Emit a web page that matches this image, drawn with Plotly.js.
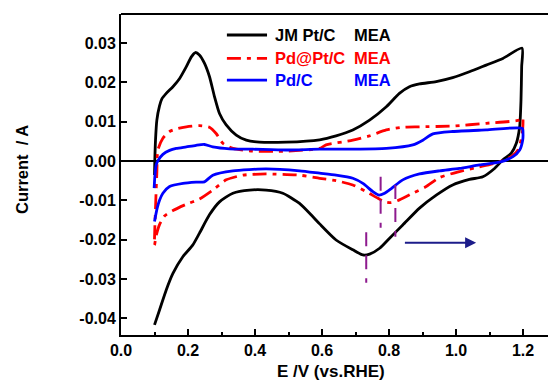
<!DOCTYPE html>
<html>
<head>
<meta charset="utf-8">
<script src="https://cdn.plot.ly/plotly-3.0.1.min.js"></script>
<style>html,body{margin:0;padding:0;background:#fff;}#chart{width:548px;height:381px;}</style>
</head>
<body>
<div id="chart"></div>
<script>
// ---- Data ----
const seriesNames = ['JM Pt/C', 'Pd@Pt/C', 'Pd/C'];
const seriesSuffix = 'MEA';

// JM Pt/C: anodic sweep 0.1 -> 1.2 V, then cathodic sweep back to 0.1 V
const ptE = [0.100,0.101,0.103,0.107,0.115,0.122,0.135,0.155,0.175,0.195,0.210,0.222,0.234,0.249,0.264,0.279,0.294,0.314,0.344,0.374,0.413,0.493,0.593,0.642,0.692,0.742,0.792,0.831,0.861,0.891,0.941,0.990,1.040,1.090,1.140,1.197,
             1.196,1.194,1.190,1.180,1.165,1.140,1.115,1.080,1.040,0.990,0.941,0.891,0.841,0.801,0.772,0.742,0.722,0.692,0.642,0.593,0.573,0.533,0.483,0.433,0.384,0.334,0.294,0.264,0.234,0.214,0.185,0.155,0.135,0.115,0.100];
const ptI = [-0.0036,0.0003,0.0053,0.0104,0.0140,0.0158,0.0172,0.0189,0.0210,0.0240,0.0265,0.0276,0.0270,0.0249,0.0215,0.0164,0.0121,0.0092,0.0066,0.0053,0.0048,0.0048,0.0054,0.0064,0.0079,0.0104,0.0138,0.0172,0.0189,0.0196,0.0202,0.0212,0.0227,0.0244,0.0261,0.0287,
             0.0240,0.0155,0.0087,0.0045,0.0020,0.0003,-0.0019,-0.0040,-0.0047,-0.0061,-0.0087,-0.0120,-0.0163,-0.0197,-0.0222,-0.0237,-0.0239,-0.0226,-0.0201,-0.0160,-0.0142,-0.0108,-0.0082,-0.0074,-0.0074,-0.0082,-0.0104,-0.0137,-0.0184,-0.0214,-0.0243,-0.0286,-0.0328,-0.0379,-0.0417];

// Pd@Pt/C
const pdptE = [0.100,0.103,0.107,0.110,0.125,0.145,0.170,0.195,0.234,0.264,0.284,0.304,0.334,0.393,0.493,0.593,0.612,0.692,0.742,0.792,0.841,0.891,0.990,1.090,1.190,1.199,
               1.199,1.194,1.185,1.165,1.130,1.070,1.010,0.951,0.911,0.871,0.831,0.807,0.787,0.767,0.732,0.692,0.642,0.593,0.533,0.433,0.364,0.314,0.274,0.234,0.195,0.155,0.130,0.115,0.105,0.100];
const pdptI = [-0.0214,-0.0120,-0.0030,0.0028,0.0058,0.0075,0.0083,0.0087,0.0090,0.0086,0.0070,0.0045,0.0032,0.0025,0.0025,0.0032,0.0041,0.0053,0.0064,0.0079,0.0086,0.0087,0.0089,0.0096,0.0104,0.0110,
               0.0080,0.0053,0.0028,0.0011,-0.0002,-0.0015,-0.0027,-0.0042,-0.0065,-0.0082,-0.0099,-0.0106,-0.0104,-0.0095,-0.0078,-0.0061,-0.0050,-0.0044,-0.0036,-0.0033,-0.0036,-0.0048,-0.0074,-0.0097,-0.0110,-0.0126,-0.0140,-0.0162,-0.0190,-0.0214];

// Pd/C
const pdE = [0.099,0.101,0.105,0.112,0.125,0.145,0.165,0.195,0.224,0.249,0.274,0.324,0.393,0.493,0.593,0.692,0.792,0.871,0.901,0.931,0.990,1.090,1.198,
             1.200,1.199,1.190,1.170,1.130,1.070,1.010,0.951,0.891,0.841,0.807,0.787,0.770,0.752,0.722,0.692,0.642,0.593,0.533,0.433,0.334,0.274,0.249,0.224,0.185,0.145,0.125,0.115,0.108,0.100];
const pdI = [-0.0069,-0.0040,-0.0010,0.0003,0.0017,0.0027,0.0032,0.0036,0.0040,0.0042,0.0036,0.0031,0.0030,0.0028,0.0030,0.0030,0.0032,0.0041,0.0053,0.0069,0.0075,0.0079,0.0083,
             0.0070,0.0053,0.0028,0.0011,-0.0003,-0.0010,-0.0019,-0.0025,-0.0033,-0.0048,-0.0070,-0.0082,-0.0087,-0.0078,-0.0057,-0.0044,-0.0036,-0.0031,-0.0025,-0.0020,-0.0025,-0.0036,-0.0053,-0.0054,-0.0057,-0.0065,-0.0082,-0.0100,-0.0120,-0.0154];

// Peak marker lines (dashed purple) and scan-direction arrow
const markerE = [0.732, 0.775, 0.819];
const markerTop = [-0.0181, -0.0040, -0.0061];
const markerBottom = [-0.0310, -0.0170, -0.0193];
const arrowStartE = 0.843, arrowEndE = 1.060, arrowI = -0.0208;

// Ticks
const xTickVals = [0.0, 0.2, 0.4, 0.6, 0.8, 1.0, 1.2];
const xTickText = ['0.0', '0.2', '0.4', '0.6', '0.8', '1.0', '1.2'];
const yTickVals = [-0.04, -0.03, -0.02, -0.01, 0.00, 0.01, 0.02, 0.03];
const yTickText = ['-0.04', '-0.03', '-0.02', '-0.01', '0.00', '0.01', '0.02', '0.03'];

// ---- Styles ----
const colors = ['#000000', '#ff0000', '#0000ff'];
const dashes = ['solid', '14px,6px,4px,6px', 'solid'];
const FONT = 'Liberation Sans, Arial, Helvetica, sans-serif';

const xs = [ptE, pdptE, pdE];
const ys = [ptI, pdptI, pdI];
const traces = xs.map((x, i) => ({
  x: x, y: ys[i], type: 'scatter', mode: 'lines', name: seriesNames[i],
  line: {color: colors[i], width: 2.8, dash: dashes[i], shape: 'spline', smoothing: 0.6}, showlegend: false, hoverinfo: 'skip'
}));

const shapes = [
  // top frame line
  {type: 'line', xref: 'paper', yref: 'paper', x0: 0, x1: 1, y0: 1, y1: 1, line: {color: '#000', width: 2}}
];
markerE.forEach((e, i) => shapes.push({
  type: 'line', xref: 'x', yref: 'y', x0: e, x1: e, y0: markerTop[i], y1: markerBottom[i],
  line: {color: '#8e1a8e', width: 2, dash: '14px,9px'}
}));

// manual legend
const legY = [0.9346, 0.862, 0.794];
const annotations = [];
seriesNames.forEach((n, i) => {
  shapes.push({type: 'line', xref: 'paper', yref: 'paper', x0: 0.248, x1: 0.342, y0: legY[i], y1: legY[i],
    line: {color: colors[i], width: 2.8, dash: dashes[i]}});
  annotations.push({xref: 'paper', yref: 'paper', x: 0.355, y: legY[i], xanchor: 'left', yanchor: 'middle',
    text: n, showarrow: false, font: {family: FONT, size: 16.5, weight: 'bold', color: colors[i]}});
  annotations.push({xref: 'paper', yref: 'paper', x: 0.541, y: legY[i], xanchor: 'left', yanchor: 'middle',
    text: seriesSuffix, showarrow: false, font: {family: FONT, size: 16.5, weight: 'bold', color: colors[i]}});
});

// arrow
annotations.push({x: arrowEndE, y: arrowI, ax: arrowStartE, ay: arrowI, xref: 'x', yref: 'y', axref: 'x', ayref: 'y',
  showarrow: true, arrowhead: 2, arrowsize: 1.1, arrowwidth: 2, arrowcolor: '#1c1c8a', text: ''});

// axis titles
annotations.push({xref: 'paper', yref: 'paper', x: 0.492, y: -0.115, xanchor: 'center', yanchor: 'middle',
  text: 'E /V (vs.RHE)', showarrow: false, font: {family: FONT, size: 17, weight: 'bold', color: '#000'}});
annotations.push({xref: 'paper', yref: 'paper', x: -0.232, y: 0.517, xanchor: 'center', yanchor: 'middle', textangle: -90,
  text: 'Current&nbsp;&nbsp;/ A', showarrow: false, font: {family: FONT, size: 16.5, weight: 'bold', color: '#000'}});

const layout = {
  width: 548, height: 381,
  margin: {l: 121, r: 0, t: 14, b: 46, pad: 0},
  paper_bgcolor: '#fff', plot_bgcolor: '#fff',
  showlegend: false,
  xaxis: {
    range: [0, 1.2746], showgrid: false, zeroline: false,
    showline: true, linecolor: '#000', linewidth: 2,
    ticks: 'inside', ticklen: 6, tickwidth: 2, tickcolor: '#000',
    tickmode: 'array', tickvals: xTickVals, ticktext: xTickText,
    minor: {ticks: 'inside', ticklen: 3, tickwidth: 2, tickcolor: '#000', dtick: 0.1, tick0: 0, showgrid: false},
    tickfont: {family: FONT, size: 16, weight: 'bold', color: '#000'}
  },
  yaxis: {
    range: [-0.04427, 0.0374], showgrid: false,
    zeroline: true, zerolinecolor: '#000', zerolinewidth: 2,
    showline: true, linecolor: '#000', linewidth: 2,
    ticks: 'inside', ticklen: 6, tickwidth: 2, tickcolor: '#000',
    tickmode: 'array', tickvals: yTickVals, ticktext: yTickText,
    tickfont: {family: FONT, size: 16, weight: 'bold', color: '#000'}
  },
  shapes: shapes,
  annotations: annotations
};

Plotly.newPlot('chart', traces, layout, {staticPlot: true, displayModeBar: false});
</script>
</body>
</html>
